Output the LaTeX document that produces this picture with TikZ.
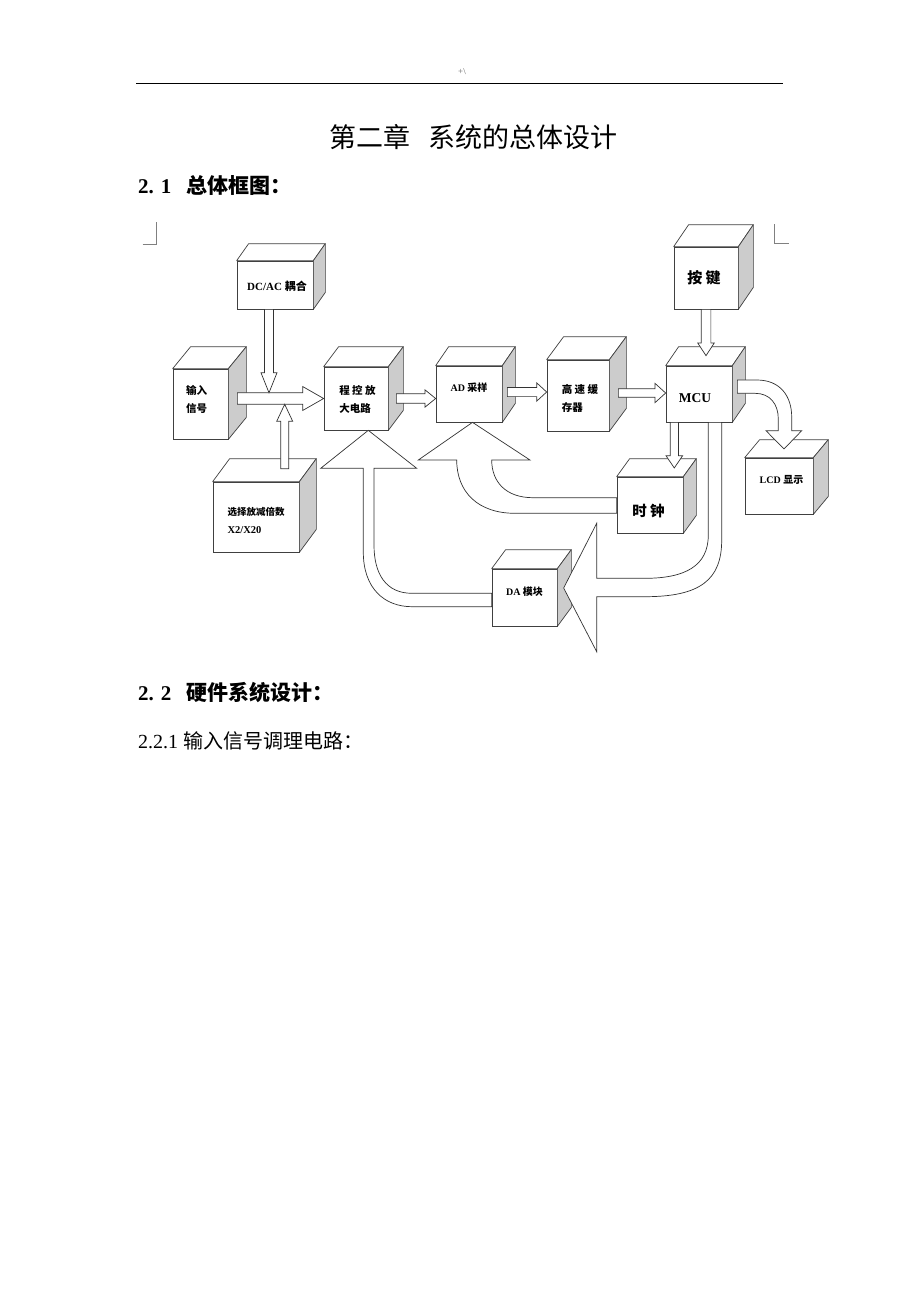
\documentclass[tikz,border=0pt]{standalone}
\usepackage{fontspec}
\setmainfont{Liberation Serif}
\newfontfamily\cjk{Noto Sans CJK SC}
\usepackage{tikz}
\usetikzlibrary{calc}

\newcommand\zh[1]{{\cjk #1}}

\tikzset{
  face/.style={draw=black!75, fill=white, line width=0.7pt, inner sep=0pt},
  topface/.style={draw=black!75, fill=white, line width=0.7pt, line join=round},
  sideface/.style={draw=black!75, fill=black!20, line width=0.7pt, line join=round},
  boxtext/.style={inner sep=0pt, align=left, font=\bfseries\fontsize{10.5}{18}\selectfont},
  blockarrow/.style={draw=black!80, fill=white, line width=0.7pt, line join=miter},
  cornermark/.style={draw=black!50, line width=0.8pt},
}

% #1 name, #2 centre, #3 width, #4 height, #5 depth, #6 text shift, #7 text
\newcommand\cubebox[7]{
  \node[face, minimum width=#3, minimum height=#4] (#1) at #2 {};
  \draw[topface] (#1.north west) -- ++#5 -- ($(#1.north east)+#5$) -- (#1.north east) -- cycle;
  \draw[sideface] (#1.north east) -- ++#5 -- ($(#1.south east)+#5$) -- (#1.south east) -- cycle;
  \node[boxtext] (#1-txt) at ($(#1.center)+#6$) {#7};
}

% #1 start, #2 tip, #3 half shaft, #4 half head, #5 head length
\newcommand\barrow[5]{
  \coordinate (ba-s) at (#1);
  \coordinate (ba-t) at (#2);
  \coordinate (ba-h) at ($(ba-t)!#5pt!(ba-s)$);
  \draw[blockarrow] ($(ba-s)!#3pt!90:(ba-t)$) -- ($(ba-h)!#3pt!90:(ba-t)$)
    -- ($(ba-h)!#4pt!90:(ba-t)$) -- (ba-t) -- ($(ba-h)!#4pt!-90:(ba-t)$)
    -- ($(ba-h)!#3pt!-90:(ba-t)$) -- ($(ba-s)!#3pt!-90:(ba-t)$) -- cycle;
}

\begin{document}
\begin{tikzpicture}[x=1pt, y=-1pt]
\useasboundingbox (0,0) rectangle (920,1302);
\fill[white] (0,0) rectangle (920,1302);

% page head
\node[font=\fontsize{9}{9}\selectfont, text=black!60] (hdr) at (462,72) {+\textbackslash};
\coordinate (rule-l) at (136,83.3);
\coordinate (rule-r) at (783,83.3);
\draw[line width=1.3pt] (rule-l) -- (rule-r);

\node[anchor=west, inner sep=0pt, font=\cjk\fontsize{27}{27}\selectfont] (title) at (329,137) {第二章\hspace{18pt}系统的总体设计};
\node[anchor=west, inner sep=0pt, font=\bfseries\fontsize{21}{21}\selectfont] (sec21) at (138,185) {2. 1\hspace{15pt}\zh{总体框图：}};

\draw[cornermark] (142.7,244) -- (156.7,244) -- (156.7,222);
\draw[cornermark] (774,224) -- (774,243.3) -- (789,243.3);

% blocks
\cubebox{dcac}{(275,285)}{76}{48}{(12,-17)}{(2,1.5)}{\fontsize{11}{14}\selectfont DC/AC \zh{耦合}}
\cubebox{sig}{(200.5,404)}{55}{70}{(18,-22)}{(-4,-5)}{\zh{输入}\\\zh{信号}}
\cubebox{amp}{(356,398.5)}{64}{63}{(15,-20)}{(1.5,0.5)}{\zh{程 控 放}\\\zh{大电路}}
\cubebox{sel}{(256,517)}{86}{70}{(17,-23)}{(0,3)}{\fontsize{9.5}{17}\selectfont\zh{选择放减倍数}\\X2/X20}
\cubebox{ad}{(469,394)}{66}{56}{(13,-19)}{(0,-6)}{\fontsize{10}{14}\selectfont AD \zh{采样}}
\cubebox{cache}{(578,395.5)}{62}{71}{(17,-23)}{(2,2.5)}{\zh{高 速 缓}\\\zh{存器}}
\cubebox{mcu}{(699,394)}{66}{56}{(13,-19)}{(-4,4)}{\fontsize{13.5}{16}\selectfont MCU}
\cubebox{key}{(706,278)}{64}{62}{(15,-22)}{(-2,0)}{\fontsize{15}{18}\selectfont\zh{按 键}}
\cubebox{clk}{(650,505)}{66}{56}{(13,-18)}{(-1.5,6)}{\fontsize{14.5}{18}\selectfont\zh{时 钟}}
\cubebox{lcd}{(779,486)}{68}{56}{(15,-18)}{(2.5,-6)}{\fontsize{10}{14}\selectfont LCD \zh{显示}}
\cubebox{da}{(524.5,597.5)}{65}{57}{(14,-19)}{(0,-6)}{\fontsize{10}{14}\selectfont DA \zh{模块}}

% straight arrows
\barrow{$(sig.east |- amp.west)+(9,0)$}{amp.west}{5.8}{12}{21}
\barrow{$(dcac.south)+(-6,0)$}{$(dcac.south |- amp.west)+(-6,-5.8)$}{4.5}{8}{20}
\barrow{$(sel.north)+(28.7,-13)$}{$(sel.north |- amp.west)+(28.7,5.8)$}{4}{8}{17}
\barrow{$(amp.east)+(8,0)$}{amp.east -| ad.west}{4.7}{8.7}{10.7}
\barrow{$(ad.east)+(5,-2)$}{$(ad.east -| cache.west)+(0,-2)$}{4.6}{9.2}{10}
\barrow{$(cache.east)+(9,-2.5)$}{$(cache.east -| mcu.west)+(0,-2.5)$}{4.2}{9.7}{10.7}
\barrow{key.south}{$(key.south |- mcu.north)+(0,-10)$}{4.85}{8.3}{12.7}
\barrow{$(mcu.south)+(-24.7,0)$}{$(mcu.south |- clk.north)+(-24.7,-8.7)$}{4.15}{8.35}{12.3}

% bent arrows
\draw[blockarrow] ($(mcu.east)+(5,-14)$) -- (757,380)
  .. controls (780,380) and (791.7,396) .. (791.7,417) -- (791.7,430.7)
  -- (801.7,430.7) -- ($(lcd.north)+(5,-8.7)$) -- (766,430.7) -- (778.3,430.7)
  -- (778.3,419) .. controls (778.3,404) and (770,393.3) .. (755,393.3)
  -- ($(mcu.east)+(5,-0.7)$) -- cycle;

\draw[blockarrow] ($(clk.west)+(0,-7.3)$) -- (533,497.7)
  .. controls (506,497.7) and (491.7,482) .. (491.7,460)
  -- (530,460) -- ($(ad.south)+(3.5,0)$) -- (418.3,460) -- (456.7,460)
  .. controls (456.7,492) and (478,513.3) .. (515,513.3)
  -- ($(clk.west)+(0,8.3)$) -- cycle;

\draw[blockarrow] ($(mcu.south)+(9.3,0)$) -- (708.3,535)
  .. controls (708.3,566) and (685,578.3) .. (645,578.3) -- (596.7,578.3)
  -- (596.7,523.3) -- ($(da.east)+(6.3,-9.5)$) -- (596.7,651.7) -- (596.7,596.7)
  -- (645,596.7) .. controls (700,596.7) and (721.7,580) .. (721.7,540)
  -- ($(mcu.south)+(22.7,0)$) -- cycle;

\draw[blockarrow] ($(da.west)+(0,-4.2)$) -- (412,593.3)
  .. controls (386,593.3) and (374,574) .. (374,545) -- (374,468.3)
  -- (416.7,468.3) -- ($(amp.south)+(12.3,0)$) -- (320.7,468.3) -- (363.3,468.3)
  -- (363.3,552) .. controls (363.3,588) and (384,606.7) .. (412,606.7)
  -- ($(da.west)+(0,9.2)$) -- cycle;

% next section
\node[anchor=west, inner sep=0pt, font=\bfseries\fontsize{21}{21}\selectfont] (sec22) at (138,692) {2. 2\hspace{15pt}\zh{硬件系统设计：}};
\node[anchor=west, inner sep=0pt, font=\fontsize{20}{20}\selectfont] (sec221) at (138,741) {2.2.1 \zh{输入信号调理电路：}};
\end{tikzpicture}
\end{document}
